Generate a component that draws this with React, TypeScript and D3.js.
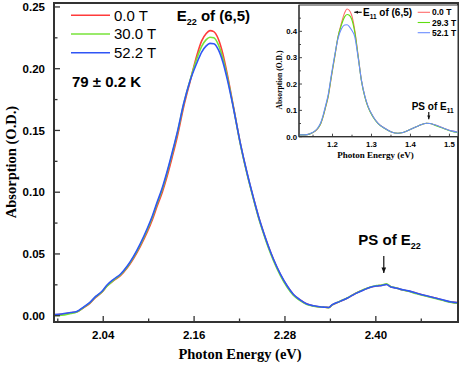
import React from 'react';
import * as d3 from 'd3';

const width = 463;
const height = 365;

// main plot: E22 region
const mainEnergy = [1.976, 1.985, 1.997, 2.005, 2.014, 2.022, 2.030, 2.038, 2.045, 2.054,
  2.063, 2.072, 2.080, 2.089, 2.098, 2.105, 2.111, 2.118, 2.124, 2.131,
  2.138, 2.146, 2.155, 2.164, 2.170, 2.176, 2.181, 2.186, 2.192, 2.198,
  2.204, 2.212, 2.221, 2.230, 2.239, 2.245, 2.252, 2.258, 2.265, 2.274,
  2.283, 2.291, 2.300, 2.309, 2.318, 2.326, 2.333, 2.338, 2.342, 2.352,
  2.362, 2.373, 2.384, 2.393, 2.401, 2.408, 2.414, 2.420, 2.426, 2.432,
  2.443, 2.454, 2.467, 2.480, 2.492, 2.500, 2.509];
const abs0T = [0.0008, 0.0012, 0.0024, 0.0030, 0.0064, 0.0098, 0.0148, 0.0188, 0.0240, 0.0286,
  0.0326, 0.0390, 0.0463, 0.0562, 0.0676, 0.0780, 0.0884, 0.1000, 0.1120, 0.1282,
  0.1455, 0.1686, 0.1903, 0.2115, 0.2225, 0.2285, 0.2308, 0.2300, 0.2240, 0.2120,
  0.1950, 0.1690, 0.1397, 0.1152, 0.0938, 0.0803, 0.0668, 0.0562, 0.0453, 0.0333,
  0.0238, 0.0172, 0.0127, 0.0094, 0.0079, 0.0071, 0.0068, 0.0066, 0.0086, 0.0114,
  0.0142, 0.0180, 0.0210, 0.0231, 0.0241, 0.0246, 0.0255, 0.0233, 0.0226, 0.0215,
  0.0200, 0.0181, 0.0160, 0.0141, 0.0121, 0.0110, 0.0104];
const abs30T = [0.0002, 0.0004, 0.0018, 0.0030, 0.0066, 0.0102, 0.0152, 0.0190, 0.0238, 0.0288,
  0.0332, 0.0396, 0.0472, 0.0574, 0.0692, 0.0798, 0.0904, 0.1022, 0.1146, 0.1308,
  0.1480, 0.1706, 0.1912, 0.2088, 0.2180, 0.2235, 0.2255, 0.2250, 0.2195, 0.2085,
  0.1930, 0.1684, 0.1392, 0.1146, 0.0930, 0.0795, 0.0660, 0.0553, 0.0444, 0.0325,
  0.0230, 0.0165, 0.0122, 0.0091, 0.0077, 0.0070, 0.0068, 0.0065, 0.0085, 0.0115,
  0.0143, 0.0181, 0.0212, 0.0233, 0.0244, 0.0249, 0.0258, 0.0235, 0.0227, 0.0214,
  0.0198, 0.0178, 0.0157, 0.0138, 0.0118, 0.0108, 0.0101];
const abs52T = [0.0009, 0.0014, 0.0026, 0.0034, 0.0070, 0.0106, 0.0156, 0.0196, 0.0248, 0.0296,
  0.0338, 0.0404, 0.0480, 0.0584, 0.0704, 0.0810, 0.0916, 0.1036, 0.1160, 0.1320,
  0.1490, 0.1712, 0.1908, 0.2052, 0.2135, 0.2185, 0.2205, 0.2202, 0.2155, 0.2055,
  0.1910, 0.1680, 0.1398, 0.1155, 0.0940, 0.0806, 0.0670, 0.0565, 0.0455, 0.0336,
  0.0240, 0.0174, 0.0128, 0.0095, 0.0080, 0.0072, 0.0069, 0.0067, 0.0087, 0.0114,
  0.0141, 0.0179, 0.0209, 0.0230, 0.0240, 0.0245, 0.0253, 0.0232, 0.0225, 0.0215,
  0.0201, 0.0182, 0.0161, 0.0142, 0.0122, 0.0111, 0.0105];
const mainLabels = ['0.0 T', '30.0 T', '52.2 T'];
const mainColors = ['#ff3b3b', '#77e33a', '#2f55f5'];

const xMajor = [2.04, 2.16, 2.28, 2.40];
const xMinor = [1.98, 2.10, 2.22, 2.34, 2.46];
const yMajor = [0, 0.05, 0.10, 0.15, 0.20, 0.25];
const yMinor = [0.025, 0.075, 0.125, 0.175, 0.225];

// inset: E11 region
const insetEnergy = [1.114, 1.125, 1.135, 1.146, 1.155, 1.163, 1.170, 1.176, 1.182, 1.189,
  1.197, 1.206, 1.214, 1.223, 1.231, 1.2375, 1.243, 1.249, 1.257, 1.266,
  1.274, 1.283, 1.291, 1.304, 1.317, 1.334, 1.351, 1.368, 1.381, 1.398,
  1.420, 1.441, 1.450, 1.462, 1.484, 1.505, 1.522];
const inset0T = [0.007, 0.007, 0.008, 0.013, 0.020, 0.032, 0.050, 0.076, 0.110, 0.152,
  0.226, 0.305, 0.378, 0.432, 0.470, 0.485, 0.480, 0.462, 0.405, 0.305,
  0.216, 0.152, 0.114, 0.076, 0.051, 0.032, 0.018, 0.013, 0.016, 0.026,
  0.041, 0.051, 0.050, 0.045, 0.033, 0.022, 0.017];
const inset29T = [0.007, 0.007, 0.008, 0.013, 0.021, 0.033, 0.051, 0.078, 0.112, 0.155,
  0.229, 0.308, 0.378, 0.425, 0.455, 0.464, 0.461, 0.447, 0.398, 0.302,
  0.214, 0.151, 0.113, 0.075, 0.050, 0.031, 0.018, 0.013, 0.016, 0.026,
  0.041, 0.051, 0.050, 0.044, 0.032, 0.021, 0.016];
const inset52T = [0.007, 0.007, 0.008, 0.014, 0.022, 0.035, 0.054, 0.082, 0.117, 0.160,
  0.234, 0.312, 0.372, 0.410, 0.424, 0.425, 0.418, 0.405, 0.380, 0.298,
  0.216, 0.154, 0.116, 0.077, 0.051, 0.032, 0.018, 0.013, 0.016, 0.026,
  0.041, 0.051, 0.050, 0.045, 0.033, 0.022, 0.017];
const insetLabels = ['0.0 T', '29.3 T', '52.1 T'];
const insetColors = ['#ff6b6b', '#5fdd10', '#6a8cff'];

const ixMajor = [1.2, 1.3, 1.4, 1.5];
const ixMinor = [1.15, 1.25, 1.35, 1.45];
const iyMajor = [0, 0.1, 0.2, 0.3, 0.4];
const iyMinor = [0.05, 0.15, 0.25, 0.35, 0.45];

const sans = "'Liberation Sans', Arial, sans-serif";
const serif = "'Liberation Serif', 'Times New Roman', 'DejaVu Serif', serif";
const axisColor = '#333';

const Arrow = ({ x1, y1, x2, y2, head }: any) => {
  const ang = Math.atan2(y2 - y1, x2 - x1);
  const p = (a: number, r: number) => [x2 + Math.cos(a) * r, y2 + Math.sin(a) * r];
  const a1 = p(ang + Math.PI - 0.4, head);
  const a2 = p(ang + Math.PI + 0.4, head);
  return (
    <g>
      <line x1={x1} y1={y1} x2={x2} y2={y2} stroke="#111" strokeWidth={1.2} />
      <path d={`M${x2},${y2}L${a1[0]},${a1[1]}L${a2[0]},${a2[1]}Z`} fill="#111" />
    </g>
  );
};

const App = () => {
  // main scales
  const x = d3.scaleLinear().domain([1.975, 2.5085]).range([54, 458]);
  const y = d3.scaleLinear().domain([-0.0051, 0.2532]).range([322, 3]);
  const mainLine = d3.line<number>()
    .x((d, i) => x(mainEnergy[i]))
    .y(d => y(d))
    .curve(d3.curveMonotoneX);
  const mainSeries = [abs0T, abs30T, abs52T];

  // inset scales
  const xi = d3.scaleLinear().domain([1.114, 1.522]).range([299, 458]);
  const yi = d3.scaleLinear().domain([0, 0.5]).range([136.7, 5]);
  const insetLine = d3.line<number>()
    .x((d, i) => xi(insetEnergy[i]))
    .y(d => yi(d))
    .curve(d3.curveMonotoneX);
  const insetSeries = [inset0T, inset29T, inset52T];

  const [x0, x1] = x.range();
  const [y0, y1] = y.range();
  const [ix0, ix1] = xi.range();
  const [iy0, iy1] = yi.range();

  return (
    <svg width={width} height={height} style={{ position: 'absolute', left: 0, top: 0, background: '#fff' }}>
      {/* main curves */}
      {mainSeries.map((s, i) => (
        <path key={i} d={mainLine(s) || ''} fill="none" stroke={mainColors[i]} strokeWidth={1.6} />
      ))}

      {/* main frame */}
      <rect x={x0} y={y1} width={x1 - x0} height={y0 - y1} fill="none" stroke={axisColor} strokeWidth={2} />
      {yMajor.map(v => (
        <g key={v}>
          <line x1={x0} x2={x0 + 6} y1={y(v)} y2={y(v)} stroke={axisColor} strokeWidth={1.3} />
          <text x={45} y={y(v)} dy="0.36em" textAnchor="end" fontFamily={sans} fontWeight="bold" fontSize={11.5}>
            {d3.format('.2f')(v)}
          </text>
        </g>
      ))}
      {yMinor.map(v => (
        <line key={v} x1={x0} x2={x0 + 3.5} y1={y(v)} y2={y(v)} stroke={axisColor} strokeWidth={1.3} />
      ))}
      {xMajor.map(v => (
        <g key={v}>
          <line x1={x(v)} x2={x(v)} y1={y0} y2={y0 - 6} stroke={axisColor} strokeWidth={1.3} />
          <text x={x(v)} y={338.5} textAnchor="middle" fontFamily={sans} fontWeight="bold" fontSize={11.5}>
            {d3.format('.2f')(v)}
          </text>
        </g>
      ))}
      {xMinor.map(v => (
        <line key={v} x1={x(v)} x2={x(v)} y1={y0} y2={y0 - 3.5} stroke={axisColor} strokeWidth={1.3} />
      ))}
      <text x={240} y={359} textAnchor="middle" fontFamily={serif} fontWeight="bold" fontSize={14.5}>
        Photon Energy (eV)
      </text>
      <text transform="translate(16,162) rotate(-90)" textAnchor="middle" fontFamily={serif} fontWeight="bold" fontSize={14.5}>
        Absorption (O.D.)
      </text>

      {/* main legend */}
      {mainLabels.map((l, i) => (
        <g key={l} transform={`translate(0,${15.3 + i * 18.7})`}>
          <line x1={71} x2={110} y1={0} y2={0} stroke={mainColors[i]} strokeWidth={1.6} />
          <text x={114} y={5.4} fontFamily={sans} fontSize={15}>{l}</text>
        </g>
      ))}
      <text x={72} y={87.3} fontFamily={sans} fontWeight="bold" fontSize={15}>79 ± 0.2 K</text>
      <text x={176.7} y={20.7} fontFamily={sans} fontWeight="bold" fontSize={15}>
        E<tspan fontSize={9} dy={4}>22</tspan><tspan dy={-4}> of (6,5)</tspan>
      </text>
      <text x={358.3} y={245} fontFamily={sans} fontWeight="bold" fontSize={15}>
        PS of E<tspan fontSize={9} dy={4}>22</tspan>
      </text>
      <Arrow x1={x(2.4105)} y1={256} x2={x(2.4105)} y2={273} head={6} />

      {/* inset */}
      <rect x={ix0} y={iy1} width={ix1 - ix0} height={iy0 - iy1} fill="#fff" stroke={axisColor} strokeWidth={1} />
      {insetSeries.map((s, i) => (
        <path key={i} d={insetLine(s) || ''} fill="none" stroke={insetColors[i]} strokeWidth={1.1} />
      ))}
      <line x1={ix0} x2={ix0} y1={iy1} y2={iy0} stroke={axisColor} strokeWidth={1.2} />
      <line x1={ix0} x2={ix1} y1={iy0} y2={iy0} stroke={axisColor} strokeWidth={1.2} />
      {iyMajor.map(v => (
        <g key={v}>
          <line x1={ix0} x2={ix0 + 3} y1={yi(v)} y2={yi(v)} stroke={axisColor} strokeWidth={0.9} />
          <text x={297} y={yi(v)} dy="0.36em" textAnchor="end" fontFamily={sans} fontWeight="bold" fontSize={7.8}>
            {d3.format('.1f')(v)}
          </text>
        </g>
      ))}
      {iyMinor.map(v => (
        <line key={v} x1={ix0} x2={ix0 + 2} y1={yi(v)} y2={yi(v)} stroke={axisColor} strokeWidth={0.9} />
      ))}
      {ixMajor.map(v => (
        <g key={v}>
          <line x1={xi(v)} x2={xi(v)} y1={iy0} y2={iy0 - 3} stroke={axisColor} strokeWidth={0.9} />
          <text x={xi(v)} y={147} textAnchor="middle" fontFamily={sans} fontWeight="bold" fontSize={7.8}>
            {d3.format('.1f')(v)}
          </text>
        </g>
      ))}
      {ixMinor.map(v => (
        <line key={v} x1={xi(v)} x2={xi(v)} y1={iy0} y2={iy0 - 2} stroke={axisColor} strokeWidth={0.9} />
      ))}
      <text x={375.5} y={157.5} textAnchor="middle" fontFamily={serif} fontWeight="bold" fontSize={9}>
        Photon Energy (eV)
      </text>
      <text transform="translate(282,80) rotate(-90)" textAnchor="middle" fontFamily={serif} fontWeight="bold" fontSize={7.6}>
        Absorption (O.D.)
      </text>
      {insetLabels.map((l, i) => (
        <g key={l} transform={`translate(0,${12.3 + i * 10.2})`}>
          <line x1={417.7} x2={430} y1={0} y2={0} stroke={insetColors[i]} strokeWidth={1.1} />
          <text x={432} y={3} fontFamily={sans} fontWeight="bold" fontSize={8.5}>{l}</text>
        </g>
      ))}
      <Arrow x1={361.7} y1={12.3} x2={354.3} y2={12.3} head={4} />
      <text x={363} y={16} fontFamily={sans} fontWeight="bold" fontSize={10}>
        E<tspan fontSize={6.5} dy={3}>11</tspan><tspan dy={-3}> of (6,5)</tspan>
      </text>
      <text x={411.7} y={110} fontFamily={sans} fontWeight="bold" fontSize={10}>
        PS of E<tspan fontSize={6.5} dy={3}>11</tspan>
      </text>
      <Arrow x1={xi(1.447)} y1={112} x2={xi(1.447)} y2={119.3} head={4} />
    </svg>
  );
};

export default App;
